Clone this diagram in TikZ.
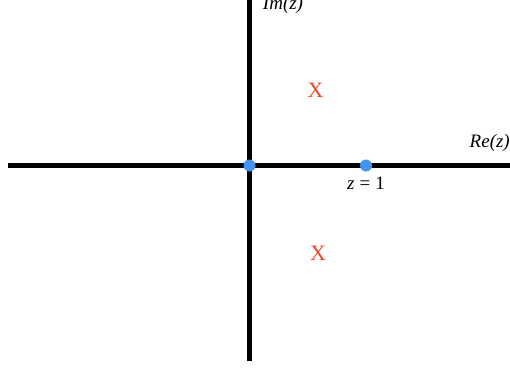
\documentclass[tikz,border=0pt]{standalone}
\usepackage{fontspec}
\setmainfont{Liberation Serif}
\begin{document}
\begin{tikzpicture}[x=1pt,y=-1pt,
  axis/.style={line width=5pt},
  pt/.style={circle,fill=ptblue,inner sep=0pt,minimum size=12pt},
  lbl/.style={font=\fontsize{19}{21}\selectfont,inner sep=0pt},
  pole/.style={font=\fontsize{22}{24}\selectfont,text=polered,inner sep=0pt,anchor=base}]
\definecolor{ptblue}{RGB}{66,150,240}
\definecolor{polered}{RGB}{240,70,40}
\useasboundingbox (0,0) rectangle (510,367);
\coordinate (xl) at (8,165.5);
\coordinate (xr) at (512,165.5);
\coordinate (yt) at (249.5,-2);
\coordinate (yb) at (249.5,361);
\draw[axis] (xl) -- (xr);
\draw[axis] (yt) -- (yb);
\node[pt] (o) at (249.5,165.5) {};
\node[pt] (one) at (366,165.5) {};
\node[lbl,anchor=base] (zl) at (366,189) {\textit{z}\hspace{5pt}=\hspace{5pt}1};
\node[lbl,anchor=base] (im) at (283,9.5) {\itshape Im(z)};
\node[lbl,anchor=base east] (re) at (510,147.5) {\itshape Re(z)};
\node[pole] (p1) at (315.5,97) {X};
\node[pole] (p2) at (318,260) {X};
\end{tikzpicture}
\end{document}
